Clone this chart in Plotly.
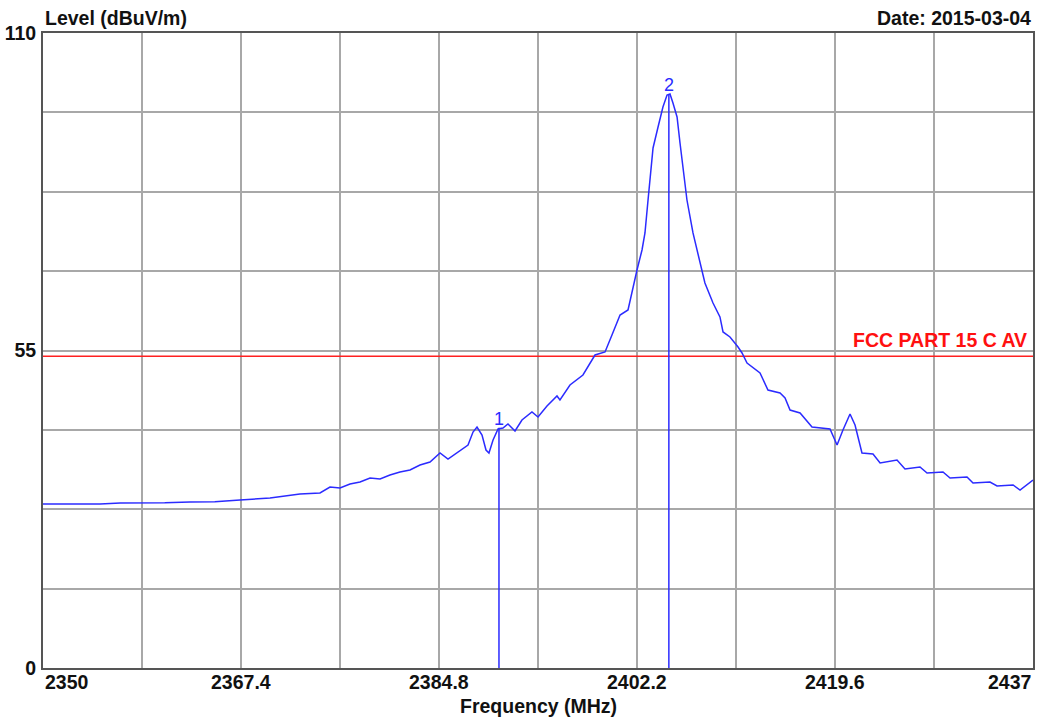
import plotly.graph_objects as go

freq = [2350.00, 2352.50, 2355.01, 2356.80, 2358.52, 2360.70, 2362.92, 2365.10, 2367.31, 2369.95,
        2372.58, 2374.34, 2375.22, 2376.10, 2376.98, 2377.86, 2378.74, 2379.62, 2380.49, 2381.37,
        2382.25, 2383.13, 2384.01, 2384.89, 2385.59, 2386.47, 2387.35, 2387.79, 2388.14, 2388.58,
        2388.93, 2389.19, 2389.55, 2389.99, 2390.42, 2390.86, 2391.48, 2392.09, 2392.97, 2393.50,
        2394.29, 2395.17, 2395.43, 2396.31, 2397.45, 2398.51, 2399.39, 2400.00, 2400.71, 2401.41,
        2401.85, 2402.20, 2402.64, 2402.90, 2403.17, 2403.34, 2403.61, 2404.05, 2404.48, 2404.84,
        2405.10, 2405.36, 2405.72, 2405.98, 2406.24, 2406.59, 2407.12, 2407.91, 2408.17, 2408.88,
        2409.49, 2409.76, 2410.37, 2411.08, 2411.43, 2411.87, 2413.01, 2413.71, 2414.77, 2415.21,
        2415.65, 2416.53, 2417.58, 2419.16, 2419.78, 2420.30, 2420.92, 2421.36, 2421.97, 2422.94,
        2423.56, 2425.05, 2425.75, 2427.07, 2427.69, 2429.09, 2429.71, 2431.20, 2431.73, 2433.22,
        2433.84, 2435.25, 2435.86, 2437.00]

level = [28.41, 28.45, 28.41, 28.60, 28.58, 28.62, 28.76, 28.80, 29.10, 29.45,
         30.14, 30.32, 31.35, 31.18, 31.87, 32.22, 32.91, 32.74, 33.43, 33.95,
         34.30, 35.17, 35.69, 37.24, 36.20, 37.42, 38.63, 40.88, 41.75, 40.36,
         37.76, 37.24, 39.50, 41.40, 41.58, 42.27, 41.06, 42.96, 44.35, 43.48,
         45.39, 47.12, 46.43, 49.02, 50.76, 54.22, 54.74, 57.69, 61.15, 62.02,
         66.00, 68.95, 72.41, 75.36, 81.07, 85.06, 90.08, 93.72, 97.18, 99.26,
         99.44, 97.88, 95.45, 90.95, 86.79, 81.07, 75.36, 68.95, 66.69, 63.23,
         60.81, 58.21, 57.35, 55.61, 54.57, 52.84, 51.10, 48.16, 47.64, 46.77,
         44.69, 44.17, 41.75, 41.40, 38.63, 41.23, 44.00, 42.10, 37.24, 37.07,
         35.51, 36.03, 34.47, 34.82, 33.78, 33.95, 32.91, 33.09, 32.05, 32.22,
         31.53, 31.70, 30.83, 32.57]

marker_labels = ["1", "2"]
marker_freq = [2390.07, 2405.00]
marker_level = [41.6, 99.4]

limit_name = "FCC PART 15 C AV"
limit_level = 54.0

x_min, x_max = 2350.0, 2437.0
y_min, y_max = 0.0, 110.0
x_grid = [2350 + 8.7 * i for i in range(11)]
x_tick_labels = ["2350", "2367.4", "2384.8", "2402.2", "2419.6", "2437"]
y_grid = [13.75 * i for i in range(9)]
y_tick_text = ["0", "", "", "", "55", "", "", "", "110"]

FONT = "Liberation Sans, Arial, sans-serif"
FS = 19.5
BLUE = "#2b2bff"

fig = go.Figure()

# limit line
fig.add_trace(go.Scatter(x=[x_min, x_max], y=[limit_level, limit_level], mode="lines",
                         line=dict(color="#ff2020", width=1.5), hoverinfo="skip"))

# trace
fig.add_trace(go.Scatter(x=freq, y=level, mode="lines",
                         line=dict(color=BLUE, width=1.5), hoverinfo="skip"))

# marker lines
for f, l in zip(marker_freq, marker_level):
    fig.add_trace(go.Scatter(x=[f, f], y=[0, l], mode="lines",
                             line=dict(color=BLUE, width=1.5), hoverinfo="skip"))

for lab, f, l in zip(marker_labels, marker_freq, marker_level):
    fig.add_annotation(x=f, y=l, text=lab, showarrow=False, yanchor="bottom", yshift=-3,
                       font=dict(family=FONT, size=18, color=BLUE))

fig.add_annotation(x=x_max, y=limit_level, text="<b>" + limit_name + "</b>", showarrow=False,
                   xanchor="right", yanchor="bottom", xshift=-4, yshift=3,
                   font=dict(family=FONT, size=FS, color="#ff1010"))

# x tick labels
for i, t in enumerate(x_tick_labels):
    xv = x_min + 17.4 * i
    anchor = "left" if i == 0 else ("right" if i == len(x_tick_labels) - 1 else "center")
    fig.add_annotation(x=xv, y=0, xref="x", yref="paper", text="<b>" + t + "</b>",
                       showarrow=False, xanchor=anchor, yanchor="top", yshift=-1,
                       font=dict(family=FONT, size=FS, color="#111"))

fig.add_annotation(x=0.5, y=0, xref="paper", yref="paper", text="<b>Frequency (MHz)</b>",
                   showarrow=False, xanchor="center", yanchor="top", yshift=-25,
                   font=dict(family=FONT, size=FS, color="#111"))
fig.add_annotation(x=0, y=1, xref="paper", yref="paper", text="<b>Level (dBuV/m)</b>",
                   showarrow=False, xanchor="left", yanchor="bottom", yshift=2,
                   font=dict(family=FONT, size=FS, color="#111"))
fig.add_annotation(x=1, y=1, xref="paper", yref="paper", text="<b>Date: 2015-03-04</b>",
                   showarrow=False, xanchor="right", yanchor="bottom", yshift=2,
                   font=dict(family=FONT, size=FS, color="#111"))

fig.update_xaxes(range=[x_min, x_max], tickvals=x_grid, showticklabels=False,
                 showgrid=True, gridcolor="#a8a8a8", gridwidth=1.5,
                 showline=True, linecolor="#555555", linewidth=2, mirror=True,
                 zeroline=False, ticks="", automargin=False)
fig.update_yaxes(range=[y_min, y_max], tickvals=y_grid,
                 ticktext=["<b>" + t + "</b>" if t else "" for t in y_tick_text],
                 showgrid=True, gridcolor="#a8a8a8", gridwidth=1.5,
                 showline=True, linecolor="#555555", linewidth=2, mirror=True,
                 zeroline=False, ticks="", tickfont=dict(family=FONT, size=FS, color="#111"),
                 ticklabelstandoff=1, automargin=False)

fig.update_layout(width=1053, height=720, margin=dict(l=43, r=20, t=33, b=52),
                  paper_bgcolor="white", plot_bgcolor="white", showlegend=False,
                  font=dict(family=FONT, size=FS, color="#111"))

fig.write_html("out.html")
